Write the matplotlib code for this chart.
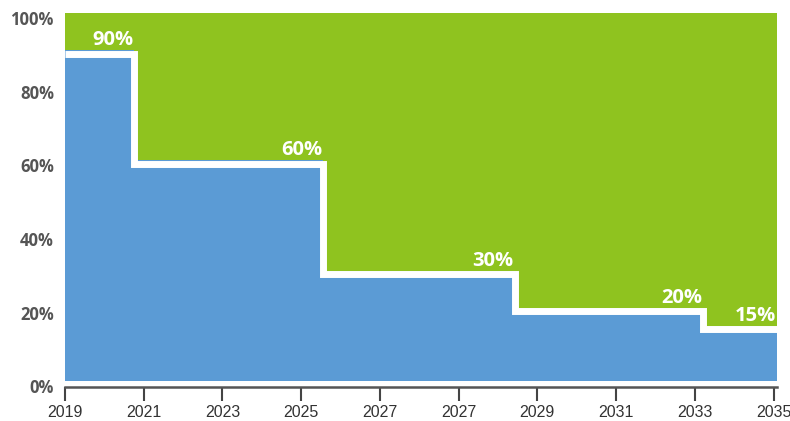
import matplotlib
matplotlib.use("Agg")
import matplotlib.pyplot as plt
from matplotlib.transforms import ScaledTranslation

# ---- data ----
tick_labels = ["2019", "2021", "2023", "2025", "2027", "2027", "2029", "2031", "2033", "2035"]
levels = [90, 60, 30, 20, 15]
breaks = [0, 0.88, 3.28, 5.71, 8.11, 9.04]
value_labels = ["90%", "60%", "30%", "20%", "15%"]
ytick_vals = [0, 20, 40, 60, 80, 100]
ytick_labels = ["0%", "20%", "40%", "60%", "80%", "100%"]

BLUE = "#5B9BD5"
GREEN = "#8FC31F"

fig = plt.figure(figsize=(7.9, 4.21), dpi=100)
ax = fig.add_axes([65 / 790, 1 - 387 / 421, (776.7 - 65) / 790, (387 - 13.3) / 421])

y = levels + [levels[-1]]
ax.fill_between(breaks, y, 100, step="post", color=GREEN, linewidth=0)
ax.fill_between(breaks, 0, y, step="post", color=BLUE, linewidth=0)

off = ScaledTranslation(0, -0.035, fig.dpi_scale_trans)
ax.step(breaks, y, where="post", color="white", lw=5.0,
        solid_joinstyle="miter", solid_capstyle="butt",
        transform=ax.transData + off)

lab_off = ScaledTranslation(-0.01, 0.05, fig.dpi_scale_trans)
for i, (lv, txt) in enumerate(zip(levels, value_labels)):
    ax.text(breaks[i + 1], lv, txt, ha="right", va="baseline",
            color="white", fontsize=14.5, fontweight="bold", family="Open Sans",
            transform=ax.transData + lab_off)

ax.set_xlim(0, 9.04)
ax.set_ylim(-1.6, 100)
ax.set_xticks(range(len(tick_labels)))
ax.set_xticklabels(tick_labels, family="Liberation Sans", fontsize=11.5, color="#333333")
ax.set_yticks(ytick_vals)
ax.set_yticklabels(ytick_labels, family="Open Sans", fontweight="bold", fontsize=12, color="#555555")
ax.tick_params(axis="y", length=0, pad=8)
ax.tick_params(axis="x", length=10, width=1.5, color="#444444", pad=3)
ytoff = ScaledTranslation(0, -0.05, fig.dpi_scale_trans)
for lbl in ax.get_yticklabels():
    lbl.set_transform(lbl.get_transform() + ytoff)

for s in ["top", "right", "left"]:
    ax.spines[s].set_visible(False)
ax.spines["bottom"].set_color("#555555")
ax.spines["bottom"].set_linewidth(1.8)

fig.savefig("out.png", dpi=100)
